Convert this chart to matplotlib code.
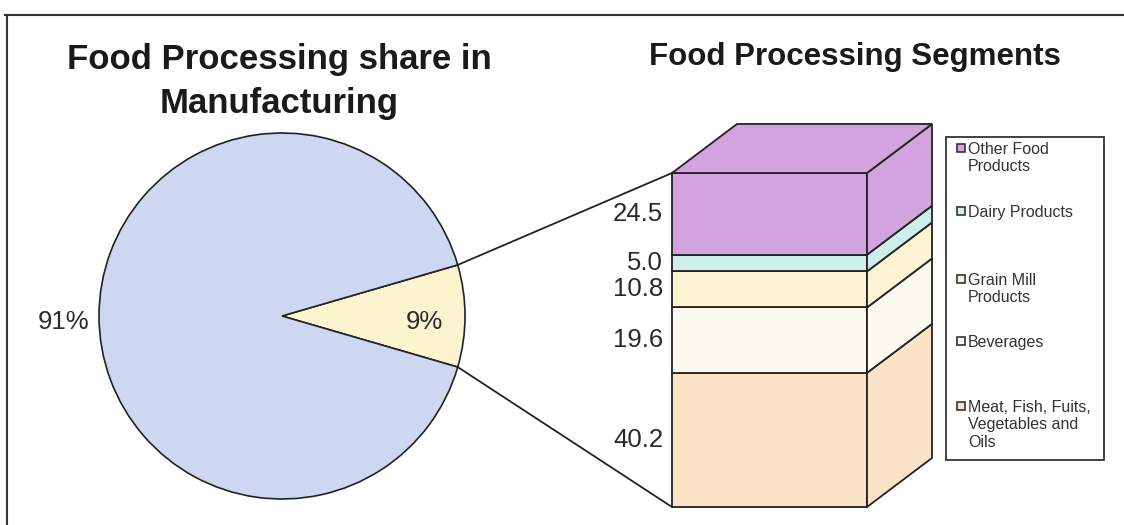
import numpy as np
import matplotlib.pyplot as plt
from matplotlib.patches import Polygon, Rectangle

plt.rcParams['font.family'] = ['Liberation Sans', 'DejaVu Sans']

# ---------- Data ----------
pie_labels = ["9%", "91%"]
pie_values = [9, 91]
pie_colors = ["#FBF4CF", "#CED7F2"]

segments = ["Meat, Fish, Fuits,\nVegetables and\nOils", "Beverages",
            "Grain Mill\nProducts", "Dairy Products", "Other Food\nProducts"]
seg_values = [40.2, 19.6, 10.8, 5.0, 24.5]
seg_colors = ["#FAE4C7", "#FAFBEE", "#FCF4D3", "#CDEEEA", "#D2A3DF"]

# ---------- Layout (pixel coords) ----------
W, H = 1124, 525
PIE_C = (282, 316)
PIE_R = 183
CUBE_X, CUBE_W = 672, 195
CUBE_BOT, CUBE_H = 507, 334
DX, DY = 65, -49           # depth offset
EDGE = "#222222"
TXT = "#2a2a2a"

fig = plt.figure(figsize=(W / 100, H / 100), dpi=100)
ax = fig.add_axes([0, 0, 1, 1])

# pie, small wedge centred on the right
start = -pie_values[0] / sum(pie_values) * 360 / 2
wedges, _ = ax.pie(pie_values, colors=pie_colors, startangle=start,
                   center=PIE_C, radius=PIE_R, counterclock=True,
                   wedgeprops=dict(edgecolor=EDGE, linewidth=1.2))
ax.set_xlim(0, W)
ax.set_ylim(H, 0)
ax.set_aspect("equal")
ax.axis("off")

ax.text(424, 322, pie_labels[0], ha="center", va="center", fontsize=18.5, color=TXT)
ax.text(64, 322, pie_labels[1], ha="center", va="center", fontsize=18.5, color=TXT)

# stacked "cube"
scale = CUBE_H / sum(seg_values)
tops = CUBE_BOT - np.cumsum(seg_values) * scale
bots = np.concatenate([[CUBE_BOT], tops[:-1]])
x0, x1 = CUBE_X, CUBE_X + CUBE_W
for b, t, c, v in zip(bots, tops, seg_colors, seg_values):
    ax.add_patch(Polygon([(x0, b), (x1, b), (x1, t), (x0, t)], closed=True,
                         facecolor=c, edgecolor=EDGE, lw=1.3))
    ax.add_patch(Polygon([(x1, b), (x1 + DX, b + DY), (x1 + DX, t + DY), (x1, t)],
                         closed=True, facecolor=c, edgecolor=EDGE, lw=1.3))
    ax.text(x0 - 9, (b + t) / 2, f"{v:.1f}", ha="right", va="center",
            fontsize=18.5, color=TXT)
ax.add_patch(Polygon([(x0, tops[-1]), (x1, tops[-1]), (x1 + DX, tops[-1] + DY),
                      (x0 + DX, tops[-1] + DY)], closed=True,
                     facecolor=seg_colors[-1], edgecolor=EDGE, lw=1.3))

# connector lines from the 9% wedge to the cube
ang = np.deg2rad(pie_values[0] / sum(pie_values) * 360 / 2)
ex = PIE_C[0] + PIE_R * np.cos(ang)
ax.plot([ex, x0], [PIE_C[1] - PIE_R * np.sin(ang), tops[-1]], color=EDGE, lw=1.3)
ax.plot([ex, x0], [PIE_C[1] + PIE_R * np.sin(ang), CUBE_BOT], color=EDGE, lw=1.3)

# legend box
ax.add_patch(Rectangle((946, 137), 158, 323, facecolor="white", edgecolor="#333333", lw=1.3))
leg_base = [154, 217, 285, 347, 412]   # baseline of first line
for name, c, y in zip(segments[::-1], seg_colors[::-1], leg_base):
    ax.add_patch(Rectangle((957, y - 10), 8, 8, facecolor=c, edgecolor="#333333", lw=1.2))
    ax.text(968, y - 12, name, ha="left", va="top", fontsize=11.5, color="#333333",
            linespacing=1.2)

# titles
ax.text(279, 69, "Food Processing share in", ha="center", va="baseline",
        fontsize=25, fontweight="bold", color="#1a1a1a")
ax.text(279, 113, "Manufacturing", ha="center", va="baseline",
        fontsize=25, fontweight="bold", color="#1a1a1a")
ax.text(855, 65, "Food Processing Segments", ha="center", va="baseline",
        fontsize=22.5, fontweight="bold", color="#1a1a1a")

# outer frame (top and left)
ax.plot([5, W], [15, 15], color="#333333", lw=1.5, clip_on=False)
ax.plot([7, 7], [15, H], color="#333333", lw=1.5, clip_on=False)

fig.savefig("out.png", dpi=100)
